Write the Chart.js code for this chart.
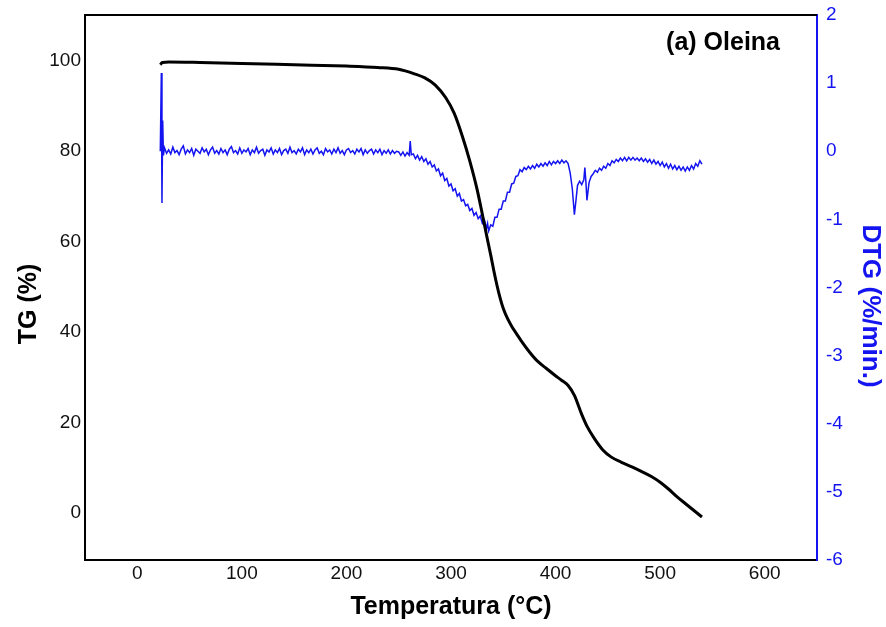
<!DOCTYPE html>
<html>
<head>
<meta charset="utf-8">
<script src="https://cdn.jsdelivr.net/npm/chart.js@4.4.1/dist/chart.umd.min.js"></script>
<style>
  html, body { margin: 0; padding: 0; background: #fff; }
  #wrap { width: 886px; height: 627px; }
</style>
</head>
<body>
<div id="wrap"><canvas id="tgChart" width="886" height="627"></canvas></div>
<script>
// TG curve (temperature °C -> mass %)
const tgTemp = [22, 24, 30, 60, 100, 150, 200, 230, 250, 265, 275, 285, 295, 303, 311, 318, 325, 330, 335, 338,
  341, 344, 347, 350, 354, 358, 363, 367, 375, 383, 391, 399, 406, 412, 418, 425, 430, 437, 445, 453,
  463, 473, 482, 492, 500, 508, 516, 524, 532, 540];
const tgValue = [99.1, 99.6, 99.7, 99.6, 99.4, 99.1, 98.8, 98.5, 98.1, 97.1, 96.2, 94.6, 91.8, 88.4, 83.2, 77.8, 71.5, 66.0, 60.3, 57.0,
  53.5, 50.3, 47.5, 45.2, 43.0, 41.3, 39.5, 38.1, 35.6, 33.5, 32.0, 30.5, 29.3, 28.2, 26.0, 21.8, 19.2, 16.5, 14.0, 12.4,
  11.2, 10.2, 9.2, 8.0, 6.8, 5.3, 3.6, 2.1, 0.6, -0.9];

// DTG curve (temperature °C -> %/min)
const dtgTemp = [22, 23, 23.6, 24.3, 25,
  26, 28, 30, 32, 34, 36, 38, 40, 42, 44,
  46, 48, 50, 52, 54, 56, 58, 60, 62, 64,
  66, 68, 70, 72, 74, 76, 78, 80, 82, 84,
  86, 88, 90, 92, 94, 96, 98, 100, 102, 104,
  106, 108, 110, 112, 114, 116, 118, 120, 122, 124,
  126, 128, 130, 132, 134, 136, 138, 140, 142, 144,
  146, 148, 150, 152, 154, 156, 158, 160, 162, 164,
  166, 168, 170, 172, 174, 176, 178, 180, 182, 184,
  186, 188, 190, 192, 194, 196, 198, 200, 202, 204,
  206, 208, 210, 212, 214, 216, 218, 220, 222, 224,
  226, 228, 230, 232, 234, 236, 238, 240, 242, 244,
  246, 248,
  250, 252, 254, 256, 258, 260, 261, 262, 264, 266,
  268, 270, 272, 274, 276, 278, 280, 282, 284, 286,
  288, 290, 292, 294, 296, 298, 300, 302, 304, 306,
  308, 310, 312, 314, 316, 318, 320, 322, 324, 326,
  328, 330, 332, 334, 335, 336, 338, 340, 342, 344,
  346, 348, 350, 352, 354, 356, 358, 360, 362, 364,
  366, 368, 370, 372, 374, 376, 378, 380, 382, 384,
  386, 388, 390, 392, 394, 396, 398, 400, 402, 404,
  406, 408, 410, 412, 414, 416, 418, 419.5, 421, 423,
  425, 427, 428, 429, 430, 432, 434, 436, 438, 440,
  442, 444, 446, 448, 450, 452, 454, 456, 458, 460,
  462, 464, 466, 468, 470, 472, 474, 476, 478, 480,
  482, 484, 486, 488, 490, 492, 494, 496, 498, 500,
  502, 504, 506, 508, 510, 512, 514, 516, 518, 520,
  522, 524, 526, 528, 530, 532, 534, 536, 538, 540];
const dtgValue = [0.0, 1.15, -0.76, 0.45, -0.06,
  0.05, -0.03, 0.02, -0.04, 0.06, -0.02, 0.01, -0.05, 0.03, 0.08,
  -0.04, 0.02, -0.02, 0.04, -0.06, 0.03, 0.0, -0.03, 0.05, -0.01,
  0.03, -0.05, 0.02, 0.06, -0.03, 0.01, -0.04, 0.04, -0.02, 0.02,
  -0.05, 0.03, 0.07, -0.02, 0.01, -0.04, 0.05, -0.03, 0.02, -0.01,
  0.04, -0.05, 0.02, -0.02, 0.06, -0.03, 0.01, 0.03, -0.06, 0.02,
  -0.01, 0.05, -0.04, 0.02, -0.02, 0.04, -0.05, 0.01, 0.03, -0.03,
  0.06, -0.02, 0.01, -0.04, 0.03, -0.01, 0.05, -0.05, 0.02, -0.02,
  0.03, -0.04, 0.02, 0.05, -0.03, 0.0, -0.05, 0.04, -0.01, 0.02,
  -0.04, 0.03, -0.02, 0.05, -0.03, 0.01, -0.05, 0.02, 0.04, -0.02,
  0.01, -0.04, 0.03, -0.01, 0.04, -0.05, 0.02, -0.03, 0.01, 0.03,
  -0.04, 0.02, -0.02, 0.03, -0.05, 0.01, -0.03, 0.02, -0.04, 0.01,
  -0.03, 0.0,
  -0.01, -0.06, -0.01, -0.07, -0.02, -0.06, 0.15, -0.05, -0.04, -0.11,
  -0.06, -0.13, -0.08, -0.15, -0.11, -0.19, -0.15, -0.23, -0.2, -0.29,
  -0.26, -0.36, -0.32, -0.43, -0.4, -0.51, -0.48, -0.58, -0.55, -0.66,
  -0.62, -0.73, -0.71, -0.8, -0.78, -0.87, -0.84, -0.94, -0.9, -0.99,
  -0.95, -1.06, -1.01, -1.13, -1.06, -1.17, -1.08, -1.1, -0.97, -0.97,
  -0.85, -0.85, -0.73, -0.73, -0.6, -0.6, -0.48, -0.47, -0.37, -0.36,
  -0.27, -0.3, -0.24, -0.27, -0.22, -0.26, -0.21, -0.25, -0.19, -0.23,
  -0.18, -0.22, -0.17, -0.21, -0.15, -0.2, -0.15, -0.18, -0.14, -0.18,
  -0.13, -0.17, -0.14, -0.18, -0.32, -0.55, -0.93, -0.72, -0.5, -0.44,
  -0.49, -0.42, -0.24, -0.45, -0.72, -0.46, -0.37, -0.33, -0.28, -0.31,
  -0.25, -0.28, -0.22, -0.25, -0.18, -0.21, -0.14, -0.17, -0.12, -0.15,
  -0.1, -0.14, -0.09, -0.14, -0.09, -0.13, -0.09, -0.13, -0.1, -0.14,
  -0.1, -0.15, -0.11, -0.16, -0.12, -0.18, -0.13, -0.19, -0.15, -0.21,
  -0.16, -0.23, -0.18, -0.25, -0.19, -0.26, -0.21, -0.27, -0.22, -0.28,
  -0.23, -0.29, -0.23, -0.28, -0.21, -0.26, -0.18, -0.22, -0.14, -0.19];

// tick labels
const xTicks = [0, 100, 200, 300, 400, 500, 600];
const tgTicks = [0, 20, 40, 60, 80, 100];
const dtgTicks = [-6, -5, -4, -3, -2, -1, 0, 1, 2];

const FONT = "'Liberation Sans', Arial, sans-serif";
const BLUE = '#1414f0';

const toPoints = (xs, ys) => xs.map((x, i) => ({ x: x, y: ys[i] }));
const fixTicks = list => scale => { scale.ticks = list.map(v => ({ value: v })); };

// frame top line, panel label and axis titles
const framePlugin = {
  id: 'frame',
  afterDraw(chart) {
    const { ctx, chartArea: a } = chart;
    ctx.save();
    ctx.strokeStyle = '#000';
    ctx.lineWidth = 2;
    ctx.beginPath();
    ctx.moveTo(a.left, a.top);
    ctx.lineTo(a.right, a.top);
    ctx.stroke();

    ctx.font = `bold 25px ${FONT}`;
    ctx.textBaseline = 'middle';
    ctx.fillStyle = '#000';
    ctx.textAlign = 'right';
    ctx.fillText('(a) Oleina', 780, 43);

    ctx.textAlign = 'center';
    ctx.fillText('Temperatura (°C)', 451, 607);

    ctx.save();
    ctx.translate(29, 304);
    ctx.rotate(-Math.PI / 2);
    ctx.fillText('TG (%)', 0, 0);
    ctx.restore();

    ctx.save();
    ctx.fillStyle = BLUE;
    ctx.font = `bold 26px ${FONT}`;
    ctx.translate(870, 306);
    ctx.rotate(Math.PI / 2);
    ctx.fillText('DTG (%/min.)', 0, 0);
    ctx.restore();

    ctx.restore();
  }
};

new Chart(document.getElementById('tgChart'), {
  type: 'line',
  data: {
    datasets: [
      {
        label: 'TG',
        data: toPoints(tgTemp, tgValue),
        yAxisID: 'yTG',
        borderColor: '#000',
        borderWidth: 3,
        pointRadius: 0,
        cubicInterpolationMode: 'monotone'
      },
      {
        label: 'DTG',
        data: toPoints(dtgTemp, dtgValue),
        yAxisID: 'yDTG',
        borderColor: BLUE,
        borderWidth: 1.5,
        pointRadius: 0,
        tension: 0
      }
    ]
  },
  options: {
    responsive: false,
    animation: false,
    layout: { padding: { top: 15, left: 0, right: 0, bottom: 0 } },
    plugins: {
      legend: { display: false },
      tooltip: { enabled: false }
    },
    scales: {
      x: {
        type: 'linear',
        min: -50,
        max: 650,
        afterBuildTicks: fixTicks(xTicks),
        afterFit: s => { s.height = 67; },
        grid: { display: false, drawTicks: false },
        border: { color: '#000', width: 2 },
        ticks: { color: '#111', padding: 2, font: { family: FONT, size: 19 } }
      },
      yTG: {
        position: 'left',
        min: -10.4,
        max: 110.1,
        afterBuildTicks: fixTicks(tgTicks),
        afterFit: s => { s.width = 85; },
        grid: { display: false, drawTicks: false },
        border: { color: '#000', width: 2 },
        ticks: { color: '#111', padding: 4, font: { family: FONT, size: 19, lineHeight: 0.5 } }
      },
      yDTG: {
        position: 'right',
        min: -6,
        max: 2,
        afterBuildTicks: fixTicks(dtgTicks),
        afterFit: s => { s.width = 69; },
        grid: { display: false, drawTicks: false },
        border: { color: BLUE, width: 2 },
        ticks: { color: BLUE, padding: 9, font: { family: FONT, size: 19, lineHeight: 0.5 } }
      }
    }
  },
  plugins: [framePlugin]
});
</script>
</body>
</html>
